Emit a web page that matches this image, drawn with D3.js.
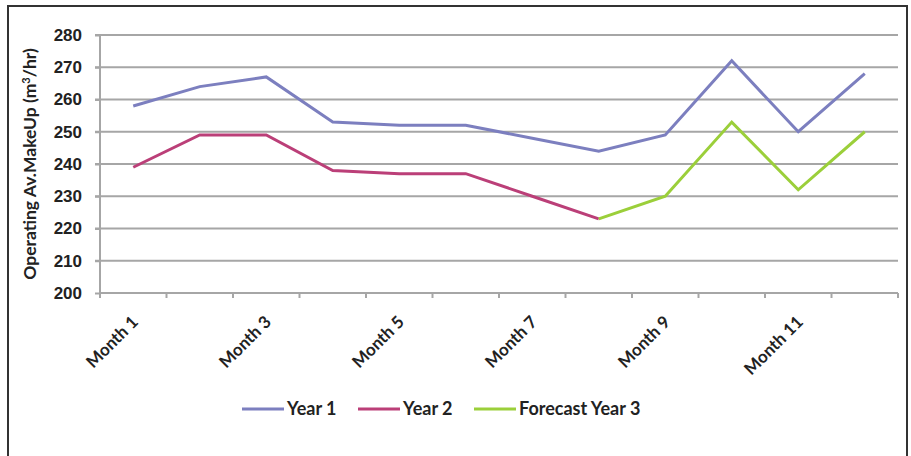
<!DOCTYPE html>
<html>
<head>
<meta charset="utf-8">
<script src="https://cdn.jsdelivr.net/npm/d3@7"></script>
<style>
  body { margin: 0; background: #fff; }
  svg { display: block; font-family: Lato, "Open Sans", sans-serif; }
</style>
</head>
<body>
<svg id="chart"></svg>
<script>
const months = ["Month 1", "Month 2", "Month 3", "Month 4", "Month 5", "Month 6",
                "Month 7", "Month 8", "Month 9", "Month 10", "Month 11", "Month 12"];
const year1 = [258, 264, 267, 253, 252, 252, 248, 244, 249, 272, 250, 268];
const year2 = [239, 249, 249, 238, 237, 237, 230, 223, null, null, null, null];
const forecast3 = [null, null, null, null, null, null, null, 223, 230, 253, 232, 250];
const yTicks = [200, 210, 220, 230, 240, 250, 260, 270, 280];
const shownLabels = ["Month 1", "Month 3", "Month 5", "Month 7", "Month 9", "Month 11"];

const series = [
  { name: "Year 1", values: year1, color: "#7c7fbf" },
  { name: "Year 2", values: year2, color: "#bb3f78" },
  { name: "Forecast Year 3", values: forecast3, color: "#9bcf3a" }
];

const width = 911, height = 456;
const margin = { top: 35, right: 13, bottom: 163, left: 100 };

const svg = d3.select("#chart").attr("width", width).attr("height", height);

// frame
svg.append("rect")
  .attr("x", 8).attr("y", 6)
  .attr("width", 899).attr("height", 460)
  .attr("fill", "none")
  .attr("stroke", "#333")
  .attr("stroke-width", 2);

const x = d3.scaleBand()
  .domain(months)
  .range([margin.left, width - margin.right]);

const y = d3.scaleLinear()
  .domain([200, 280])
  .range([height - margin.bottom, margin.top]);

// gridlines
svg.append("g")
  .selectAll("line")
  .data(yTicks.slice(1))
  .join("line")
  .attr("x1", margin.left - 5)
  .attr("x2", width - margin.right)
  .attr("y1", d => y(d))
  .attr("y2", d => y(d))
  .attr("stroke", "#a6a6a6")
  .attr("stroke-width", 2);

// y axis
const yAxis = svg.append("g")
  .attr("transform", `translate(${margin.left},0)`)
  .call(d3.axisLeft(y).tickValues(yTicks).tickSize(5).tickPadding(13));
yAxis.selectAll("path, line").attr("stroke", "#a6a6a6").attr("stroke-width", 2);
yAxis.select(".domain").attr("d", `M0,${y(200)}V${y(280)}`);
yAxis.selectAll("text")
  .style("font-size", "17px")
  .style("font-weight", "bold")
  .attr("fill", "#222");

// x axis
const xAxis = svg.append("g")
  .attr("transform", `translate(0,${y(200)})`)
  .call(d3.axisBottom(x).tickSize(0).tickFormat(""));
xAxis.select(".domain").attr("stroke", "#a6a6a6").attr("stroke-width", 2)
  .attr("d", `M${margin.left},0H${width - margin.right}`);

// ticks at category boundaries
svg.append("g")
  .selectAll("line")
  .data(months.concat(["end"]))
  .join("line")
  .attr("x1", (d, i) => i < months.length ? x(d) : x(months[months.length - 1]) + x.bandwidth())
  .attr("x2", (d, i) => i < months.length ? x(d) : x(months[months.length - 1]) + x.bandwidth())
  .attr("y1", y(200))
  .attr("y2", y(200) + 5)
  .attr("stroke", "#a6a6a6")
  .attr("stroke-width", 2);

// rotated month labels
svg.append("g")
  .selectAll("text")
  .data(shownLabels)
  .join("text")
  .attr("transform", d => `translate(${x(d) + x.bandwidth() / 2 + 6},${y(200) + 30}) rotate(-45)`)
  .attr("text-anchor", "end")
  .style("font-size", "17px")
  .style("font-weight", "bold")
  .attr("fill", "#222")
  .text(d => d);

// y axis title
const title = svg.append("text")
  .attr("transform", `translate(36,${(y(200) + y(280)) / 2}) rotate(-90)`)
  .attr("text-anchor", "middle")
  .style("font-size", "17.5px")
  .style("font-weight", "bold")
  .attr("fill", "#222");
title.append("tspan").text("Operating Av.MakeUp (m");
title.append("tspan").attr("baseline-shift", "super").style("font-size", "11px").text("3");
title.append("tspan").text("/hr)");

// lines
const line = d3.line()
  .defined(d => d != null)
  .x((d, i) => x(months[i]) + x.bandwidth() / 2)
  .y(d => y(d));

svg.append("g")
  .selectAll("path")
  .data(series)
  .join("path")
  .attr("d", d => line(d.values))
  .attr("fill", "none")
  .attr("stroke", d => d.color)
  .attr("stroke-width", 3)
  .attr("stroke-linejoin", "miter");

// legend
const legendX = [242, 358, 474];
const legend = svg.append("g")
  .selectAll("g")
  .data(series)
  .join("g")
  .attr("transform", (d, i) => `translate(${legendX[i]},409)`);
legend.append("line")
  .attr("x1", 0).attr("x2", 42)
  .attr("stroke", d => d.color)
  .attr("stroke-width", 3);
legend.append("text")
  .attr("x", 45)
  .attr("dy", "0.35em")
  .style("font-size", "18px")
  .style("font-weight", "bold")
  .attr("fill", "#222")
  .text(d => d.name);
</script>
</body>
</html>
